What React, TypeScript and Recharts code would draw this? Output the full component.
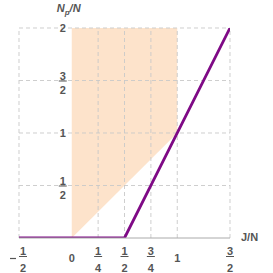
import React from 'react';
import { ComposedChart, Line, Area, XAxis, YAxis, ReferenceLine, ReferenceDot } from 'recharts';

// purple curve
const lineX = [-0.5, 0.5, 1.5];
const lineY = [0, 0, 2];

// shaded region: x from 0 to 1, between lower edge and top
const shadeX = [0, 1];
const shadeLow = [0, 1];
const shadeHigh = [2, 2];

const xTicks = [-0.5, 0, 0.25, 0.5, 0.75, 1, 1.5];
const xTickLabels = ['-1/2', '0', '1/4', '1/2', '3/4', '1', '3/2'];
const yTicks = [0.5, 1, 1.5, 2];
const yTickLabels = ['1/2', '1', '3/2', '2'];
const gridX = [-0.5, 0.25, 0.5, 0.75, 1, 1.5];
const gridY = [0.5, 1, 1.5, 2];

const lineData = lineX.map((x, i) => ({ x, y: lineY[i] }));
const shadeData = shadeX.map((x, i) => ({ x, range: [shadeLow[i], shadeHigh[i]] }));

const TXT = '#555';
const FONT = '"Liberation Sans", Arial, sans-serif';
const GRID = '#c9c9c9';

const textProps = { fill: TXT, fontSize: 11, fontWeight: 'bold' as const, fontFamily: FONT, textAnchor: 'middle' as const };

// fraction-or-integer label; (cx, top) anchor; numBase/barY/denBase relative offsets
const Frac = ({ cx, label, numBase, barY, denBase, intBase }: any) => {
  let neg = false;
  let s = label;
  if (s.startsWith('-')) { neg = true; s = s.slice(1); }
  if (!s.includes('/')) {
    return <text x={cx} y={intBase} {...textProps}>{s}</text>;
  }
  const [n, d] = s.split('/');
  const fx = neg ? cx + 4 : cx;
  return (
    <g>
      {neg && <line x1={cx - 9} x2={cx - 3} y1={(numBase + denBase) / 2 - 5} y2={(numBase + denBase) / 2 - 5} stroke={TXT} strokeWidth={1.2} />}
      <text x={fx} y={numBase} {...textProps}>{n}</text>
      <line x1={fx - 4} x2={fx + 4} y1={barY} y2={barY} stroke={TXT} strokeWidth={1} />
      <text x={fx} y={denBase} {...textProps}>{d}</text>
    </g>
  );
};

const XTick = ({ x, y, payload }: any) => {
  const idx = xTicks.indexOf(payload.value);
  const label = xTickLabels[idx] ?? String(payload.value);
  return <Frac cx={x} label={label} numBase={y + 15} barY={y + 16.5} denBase={y + 32} intBase={y + 22} />;
};

const yLabel = (label: string) => (p: any) => {
  const vb = p.viewBox;
  const cx = vb.x + vb.width / 2;
  const cy = vb.y + vb.height / 2;
  return <Frac cx={cx - 9} label={label} numBase={cy - 1} barY={cy + 0.5} denBase={cy + 13} intBase={cy + 4} />;
};

const yAxisTitle = (p: any) => {
  const vb = p.viewBox;
  const cx = vb.x + vb.width / 2;
  const cy = vb.y + vb.height / 2;
  return (
    <text x={cx - 15} y={cy - 16} fill={TXT} fontSize={11} fontWeight="bold" fontStyle="italic" fontFamily={FONT}>
      <tspan>N</tspan>
      <tspan dy={3} fontSize={8}>p</tspan>
      <tspan dy={-3}>/N</tspan>
    </text>
  );
};

const xAxisTitle = (p: any) => {
  const vb = p.viewBox;
  const cx = vb.x + vb.width / 2;
  const cy = vb.y + vb.height / 2;
  return (
    <text x={cx + 11} y={cy + 3} fill={TXT} fontSize={11} fontWeight="bold" fontFamily={FONT}>J/N</text>
  );
};

export default function App() {
  return (
    <div style={{ position: 'absolute', left: 0, top: 0 }}>
      <ComposedChart width={273} height={273} margin={{ top: 28, right: 43, bottom: 0, left: 19 }}>
        <XAxis
          type="number"
          dataKey="x"
          domain={[-0.5, 1.5]}
          ticks={xTicks}
          interval={0}
          height={35}
          tick={<XTick />}
          tickLine={false}
          tickSize={0}
          axisLine={{ stroke: '#aaa', strokeWidth: 1 }}
          allowDataOverflow
        />
        <YAxis type="number" domain={[0, 2]} hide width={0} allowDataOverflow />
        <Area
          data={shadeData}
          dataKey="range"
          type="linear"
          fill="#fde3cb"
          fillOpacity={1}
          stroke="none"
          isAnimationActive={false}
        />
        {gridY.map((v) => (
          <ReferenceLine key={'gy' + v} y={v} stroke={GRID} strokeDasharray="4 3" strokeOpacity={0.9} />
        ))}
        {gridX.map((v) => (
          <ReferenceLine key={'gx' + v} x={v} stroke={GRID} strokeDasharray="4 3" strokeOpacity={0.9} />
        ))}
        <Line
          data={lineData}
          dataKey="y"
          type="linear"
          stroke="#7f0a86"
          strokeWidth={2.8}
          dot={false}
          isAnimationActive={false}
        />
        {yTicks.map((v, i) => (
          <ReferenceDot key={'yl' + v} x={0} y={v} r={1} fill="none" stroke="none" label={yLabel(yTickLabels[i])} />
        ))}
        <ReferenceDot x={0} y={2} r={1} fill="none" stroke="none" label={yAxisTitle} />
        <ReferenceDot x={1.5} y={0} r={1} fill="none" stroke="none" label={xAxisTitle} />
      </ComposedChart>
    </div>
  );
}
